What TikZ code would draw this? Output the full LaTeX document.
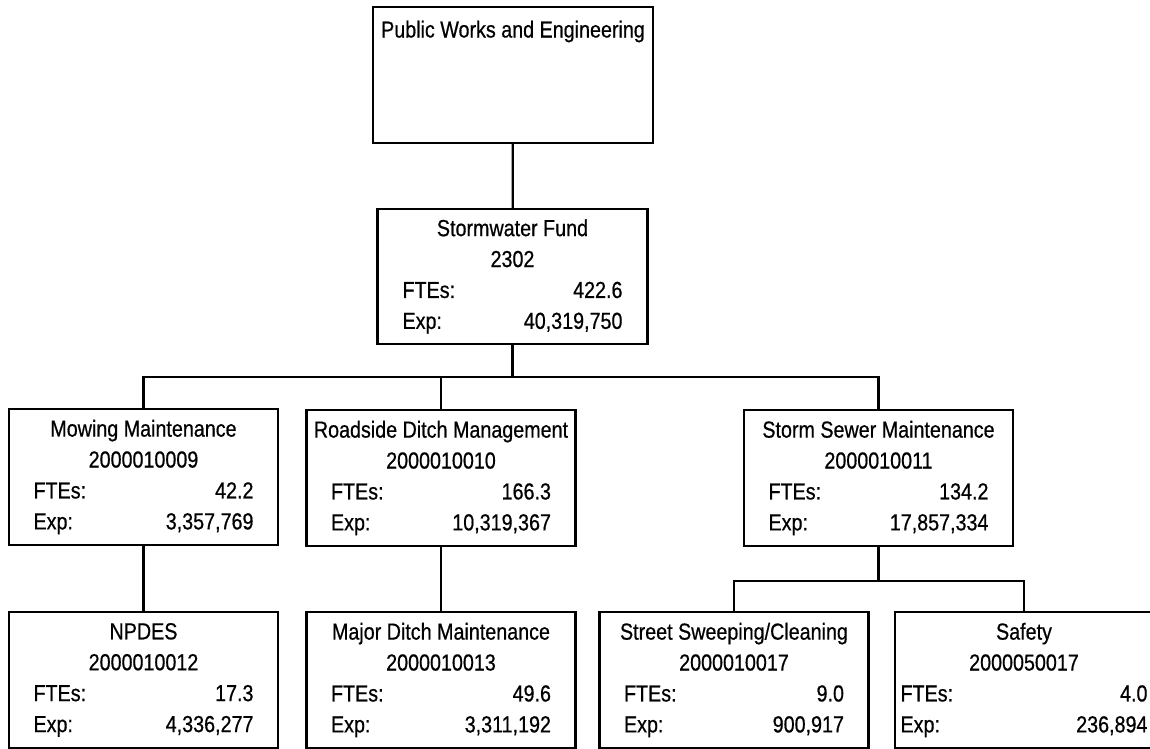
\documentclass[tikz,border=0pt]{standalone}
\usepackage{fontspec}
\setmainfont{Liberation Sans}[FakeStretch=0.85, FakeBold=0.6]
\usetikzlibrary{positioning}

% one row of figures inside a unit box
\newcommand{\fig}[3][4.4cm]{\makebox[#1]{#2\hfill#3}}

\begin{document}
\begin{tikzpicture}[x=0.02cm, y=-0.02cm,
  unit/.style={draw, line width=1.3pt, inner sep=0pt,
               minimum width=#1, minimum height=2.72cm,
               align=center, font=\fontsize{13.2}{17.6}\selectfont},
  unit/.default=5.38cm,
  head/.style={draw, line width=1.3pt, inner sep=0pt,
               minimum width=5.6cm, text height=0.61cm, text depth=2.11cm,
               font=\fontsize{13.2}{17.6}\selectfont},
  link/.style={line width=1.3pt}
]
\path[use as bounding box, clip] (0,0) rectangle (1150,748);

% department and fund
\node[head] (pwe) at (513,75) {Public Works and Engineering};
\node[unit=5.4cm, minimum height=2.7cm] (fund) at (512.5,276.5)
  {Stormwater Fund\\2302\\\fig{FTEs:}{422.6}\\\fig{Exp:}{40,319,750}};

% programs
\node[unit] (mow)   at (143.5,477)
  {Mowing Maintenance\\2000010009\\\fig{FTEs:}{42.2}\\\fig{Exp:}{3,357,769}};
\node[unit] (road)  at (441,478)
  {Roadside Ditch Management\\2000010010\\\fig{FTEs:}{166.3}\\\fig{Exp:}{10,319,367}};
\node[unit] (storm) at (878.5,478)
  {Storm Sewer Maintenance\\2000010011\\\fig{FTEs:}{134.2}\\\fig{Exp:}{17,857,334}};

% activities
\node[unit] (npdes)  at (143.5,680)
  {NPDES\\2000010012\\\fig{FTEs:}{17.3}\\\fig{Exp:}{4,336,277}};
\node[unit] (major)  at (441,680)
  {Major Ditch Maintenance\\2000010013\\\fig{FTEs:}{49.6}\\\fig{Exp:}{3,311,192}};
\node[unit] (sweep)  at (734,680)
  {Street Sweeping/Cleaning\\2000010017\\\fig{FTEs:}{9.0}\\\fig{Exp:}{900,917}};
\node[unit=5.16cm] (safety) at (1024,680)
  {Safety\\2000050017\\\fig[4.94cm]{FTEs:}{4.0}\\\fig[4.94cm]{Exp:}{236,894}};

% connectors
\coordinate (bus1) at (512.5,377);
\coordinate (bus2) at (878.5,581);

\draw[link] (pwe) -- (fund);
\draw[link] (fund) -- (bus1);
\draw[link] (bus1) -| (mow);
\draw[link] (bus1) -| (road);
\draw[link] (bus1) -| (storm);
\draw[link] (mow) -- (npdes);
\draw[link] (road) -- (major);
\draw[link] (storm) -- (bus2);
\draw[link] (bus2) -| (sweep);
\draw[link] (bus2) -| (safety);
\end{tikzpicture}
\end{document}
